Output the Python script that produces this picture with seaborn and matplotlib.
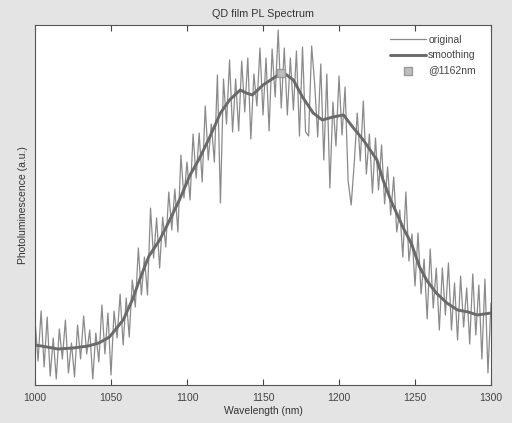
import numpy as np
import pandas as pd
import matplotlib
matplotlib.use("Agg")
import matplotlib.pyplot as plt
import seaborn as sns

sns.set_style("white")
plt.rcParams['font.family'] = ['Liberation Sans', 'DejaVu Sans']

# smoothed curve anchors (wavelength nm, intensity a.u.)
smooth_wl = [1000, 1008, 1015, 1025, 1035, 1042, 1049, 1058, 1064, 1070, 1075, 1082, 1088,
             1095, 1102, 1108, 1115, 1122, 1128, 1135, 1139, 1143, 1150, 1157, 1163, 1170,
             1176, 1183, 1189, 1196, 1203, 1209, 1216, 1225, 1229, 1234, 1242, 1248, 1253,
             1258, 1264, 1271, 1278, 1285, 1291, 1300]
smooth_val = [40, 38, 36, 37, 39, 42, 48, 65, 85, 110, 129, 145, 163,
              185, 210, 226, 248, 272, 285, 295, 292, 290, 300, 307, 313, 305,
              288, 272, 265, 268, 270, 258, 245, 225, 205, 185, 158, 140, 118,
              104, 92, 82, 75, 73, 70, 72]

# original (noisy) spectrum, 2 nm steps from 1000 to 1300
orig_wl = list(range(1000, 1301, 2))
orig_val = [
    65, 24, 74, 18, 68, 9, 47, 6, 56, 26,
    65, 12, 42, 8, 60, 26, 69, 31, 55, 6,
    52, 23, 80, 31, 72, 10, 74, 47, 91, 40,
    87, 48, 105, 78, 137, 90, 128, 90, 177, 127,
    167, 117, 168, 138, 193, 155, 196, 153, 230, 187,
    223, 185, 251, 207, 252, 203, 279, 225, 261, 223,
    310, 182, 306, 261, 325, 253, 306, 254, 324, 273,
    327, 246, 311, 279, 337, 270, 327, 254, 336, 288,
    355, 277, 337, 270, 327, 275, 334, 249, 338, 253,
    249, 339, 301, 248, 321, 225, 311, 197, 283, 239,
    309, 250, 298, 204, 180, 221, 272, 224, 284, 211,
    251, 192, 247, 195, 240, 181, 218, 170, 208, 153,
    175, 128, 193, 124, 151, 99, 152, 91, 126, 66,
    136, 77, 117, 55, 117, 70, 122, 55, 102, 45,
    109, 58, 97, 41, 111, 50, 100, 26, 106, 12,
    82]

peak_wl = [1162]
peak_val = [312]

df_orig = pd.DataFrame({"wl": orig_wl, "val": orig_val})
df_smooth = pd.DataFrame({"wl": smooth_wl, "val": smooth_val})
df_peak = pd.DataFrame({"wl": peak_wl, "val": peak_val})

fig = plt.figure(figsize=(5.12, 4.23), dpi=100, facecolor="#e4e4e4")
ax = fig.add_axes([35/512, 1-385/423, 456/512, 360/423])
ax.set_facecolor("white")

sns.lineplot(data=df_orig, x="wl", y="val", ax=ax, color="#8a8a8a", linewidth=0.9,
             label="original")
sns.lineplot(data=df_smooth, x="wl", y="val", ax=ax, color="#6a6a6a", linewidth=2.1,
             label="smoothing")
sns.scatterplot(data=df_peak, x="wl", y="val", ax=ax, marker="s", s=40,
                color="#bdbdbd", edgecolor="#9a9a9a", linewidth=1.0, label="@1162nm", zorder=5)

ax.set_xlim(1000, 1300)
ax.set_ylim(0, 360)
ax.set_xticks(np.arange(1000, 1301, 50))
ax.set_yticks([])
ax.tick_params(axis="x", direction="in", top=True, bottom=True, length=4,
               labelsize=7.5, colors="#444444", pad=6)
for sp in ax.spines.values():
    sp.set_color("#555555")
    sp.set_linewidth(0.8)

ax.set_title("QD film PL Spectrum", fontsize=7.8, color="#333333", pad=6)
ax.set_xlabel("Wavelength (nm)", fontsize=7.5, color="#333333", labelpad=2)
ax.set_ylabel("Photoluminescence (a.u.)", fontsize=7.5, color="#333333", labelpad=5)

leg = ax.legend(loc="upper right", frameon=False, fontsize=7.5, handlelength=3.5,
                handletextpad=0.2, borderaxespad=0.4, labelspacing=0.5,
                bbox_to_anchor=(0.985, 0.995))
for t in leg.get_texts():
    t.set_color("#444444")

fig.savefig("out.png", dpi=100, facecolor=fig.get_facecolor())
